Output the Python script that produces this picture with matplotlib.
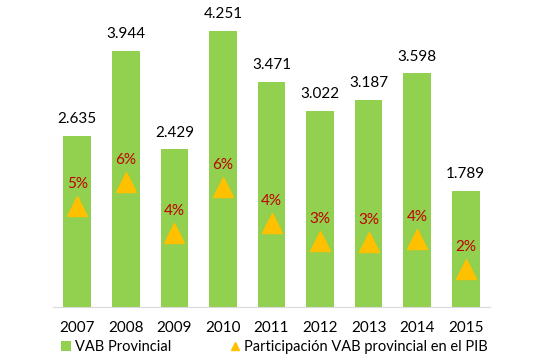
import matplotlib.pyplot as plt
from matplotlib.patches import Patch
from matplotlib.lines import Line2D

# Data
years = ["2007", "2008", "2009", "2010", "2011", "2012", "2013", "2014", "2015"]
vab = [2635, 3944, 2429, 4251, 3471, 3022, 3187, 3598, 1789]
vab_labels = ["2.635", "3.944", "2.429", "4.251", "3.471", "3.022", "3.187", "3.598", "1.789"]
share = [4.9, 5.9, 3.8, 5.7, 4.2, 3.45, 3.4, 3.55, 2.3]
share_labels = ["5%", "6%", "4%", "6%", "4%", "3%", "3%", "4%", "2%"]

green = "#92D050"
orange = "#FFC000"
red = "#C00000"

plt.rcParams["font.family"] = ["Lato", "DejaVu Sans"]

fig = plt.figure(figsize=(5.35, 3.63), dpi=100)
ax = fig.add_axes([0.099, 0.154, 0.817, 0.805])
x = list(range(len(years)))

ax.bar(x, vab, width=0.57, color=green, zorder=2)
for xi, v, lab in zip(x, vab, vab_labels):
    ax.annotate(lab, (xi, v), xytext=(0, 7), textcoords="offset points",
                ha="center", va="bottom", fontsize=11, color="black")

ax.set_xlim(-0.5, len(years) - 0.5)
ax.set_ylim(0, 4500)
ax.set_xticks(x)
ax.set_xticklabels(years, fontsize=11)
ax.tick_params(axis="x", length=0, pad=10)
ax.set_yticks([])
for s in ["top", "left", "right"]:
    ax.spines[s].set_visible(False)
ax.spines["bottom"].set_color("#D9D9D9")

ax2 = ax.twinx()
ax2.plot(x, share, linestyle="none", marker="^", markersize=15,
         color=orange, zorder=3)
for xi, v, lab in zip(x, share, share_labels):
    ax2.annotate(lab, (xi, v), xytext=(0, 11), textcoords="offset points",
                 ha="center", va="bottom", fontsize=11, color=red)
ax2.set_ylim(0.708, 12.875)
ax2.set_yticks([])
for s in ax2.spines.values():
    s.set_visible(False)

handles = [
    Patch(facecolor=green, edgecolor="none"),
    Line2D([], [], linestyle="none", marker="^", markersize=5.5, color=orange),
]
fig.legend(handles, ["VAB Provincial", "Participación VAB provincial en el PIB"],
           loc="center", bbox_to_anchor=(0.513, 0.044), ncol=2, frameon=False,
           fontsize=10.5, handlelength=0.7, handletextpad=0.3, columnspacing=4.0)

fig.savefig("out.png", dpi=100)
